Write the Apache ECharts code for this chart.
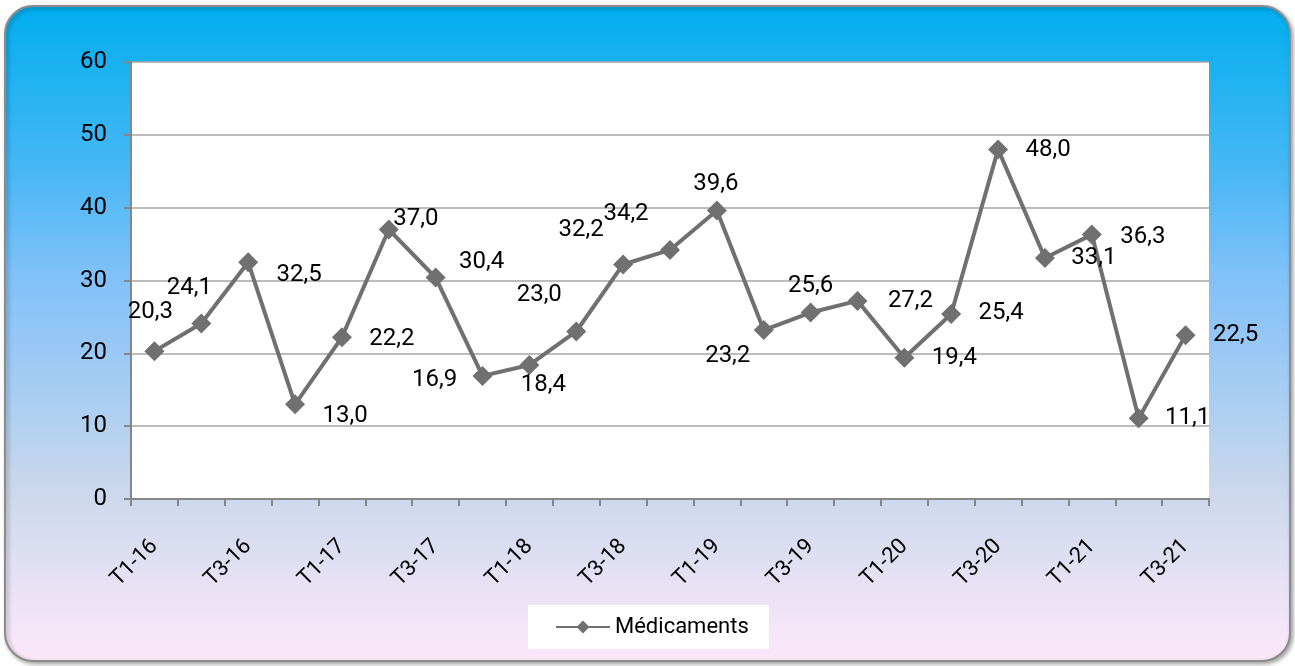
<!DOCTYPE html>
<html>
<head>
<meta charset="utf-8">
<script src="https://cdn.jsdelivr.net/npm/echarts@6/dist/echarts.min.js"></script>
<style>
html,body{margin:0;padding:0;background:#fff;}
#chart{width:1295px;height:666px;}
</style>
</head>
<body>
<div id="chart"></div>
<script>
// ---- data ----
const categories = ['T1-16','T2-16','T3-16','T4-16','T1-17','T2-17','T3-17','T4-17','T1-18','T2-18','T3-18','T4-18','T1-19','T2-19','T3-19','T4-19','T1-20','T2-20','T3-20','T4-20','T1-21','T2-21','T3-21'];
const seriesName = 'Médicaments';
const values = [20.3,24.1,32.5,13.0,22.2,37.0,30.4,16.9,18.4,23.0,32.2,34.2,39.6,23.2,25.6,27.2,19.4,25.4,48.0,33.1,36.3,11.1,22.5];
const yMin = 0, yMax = 60, yStep = 10;

// ---- label placement (style only) ----
const labelOffsets = [[-4,-39],[-12,-35],[51,13],[50,12],[50,2],[27,-11],[46,-16],[-48,4],[14,20],[-37,-36],[-42,-34],[-44,-36],[-1,-27],[-36,26],[0,-27],[53,0],[50,0],[50,-1],[50,1],[49,0],[51,2],[49,0],[50,0]];

const chart = echarts.init(document.getElementById('chart'));
const FONT = 'Roboto';
const option = {
  animation: false,
  textStyle: { fontFamily: FONT },
  graphic: [{
    type: 'rect',
    z: -10,
    silent: true,
    shape: { x: 5, y: 6, width: 1285, height: 655, r: 28 },
    style: {
      fill: new echarts.graphic.LinearGradient(0, 0, 0, 1, [
        { offset: 0, color: '#00AEEF' },
        { offset: 0.27, color: '#4DB8F5' },
        { offset: 0.41, color: '#80C1F8' },
        { offset: 0.5, color: '#94C6F6' },
        { offset: 0.63, color: '#B0D0F0' },
        { offset: 0.72, color: '#C7D6EC' },
        { offset: 0.9, color: '#EBE3F5' },
        { offset: 1, color: '#FBE8F9' }
      ]),
      stroke: '#8C8C8C',
      lineWidth: 2,
      shadowColor: 'rgba(0,0,0,0.35)',
      shadowBlur: 4,
      shadowOffsetX: 2,
      shadowOffsetY: 2
    }
  }],
  grid: {
    left: 131, right: 86, top: 62, bottom: 167,
    show: true, backgroundColor: '#ffffff', borderWidth: 0
  },
  legend: {
    left: 528, top: 605,
    padding: [11, 20, 11, 27],
    backgroundColor: '#ffffff',
    itemWidth: 54, itemHeight: 16,
    textStyle: { fontFamily: FONT, fontSize: 22, color: '#000' },
    data: [seriesName]
  },
  xAxis: {
    type: 'category',
    data: categories,
    boundaryGap: true,
    axisLine: { lineStyle: { color: '#868686', width: 2 } },
    axisTick: { show: true, interval: 0, length: 7, lineStyle: { color: '#868686', width: 2 } },
    axisLabel: { interval: 1, rotate: 45, fontFamily: FONT, fontSize: 22, color: '#000', margin: 44 },
    splitLine: { show: false }
  },
  yAxis: {
    type: 'value',
    min: yMin, max: yMax, interval: yStep,
    axisLine: { show: true, lineStyle: { color: '#868686', width: 2 } },
    axisTick: { show: true, length: 7, lineStyle: { color: '#868686', width: 2 } },
    axisLabel: { fontFamily: FONT, fontSize: 24, color: '#000', margin: 24 },
    splitLine: { lineStyle: { color: '#A6A6A6', width: 1.5 } }
  },
  series: [{
    name: seriesName,
    type: 'line',
    data: values.map((v, i) => ({ value: v, label: { offset: labelOffsets[i] } })),
    symbol: 'diamond',
    symbolSize: 20,
    lineStyle: { color: '#707070', width: 4 },
    itemStyle: { color: '#707070' },
    label: {
      show: true,
      position: 'inside',
      align: 'center',
      verticalAlign: 'middle',
      fontFamily: FONT,
      fontSize: 24,
      color: '#000',
      formatter: p => p.value.toFixed(1).replace('.', ',')
    }
  }]
};
chart.setOption(option);
</script>
</body>
</html>
